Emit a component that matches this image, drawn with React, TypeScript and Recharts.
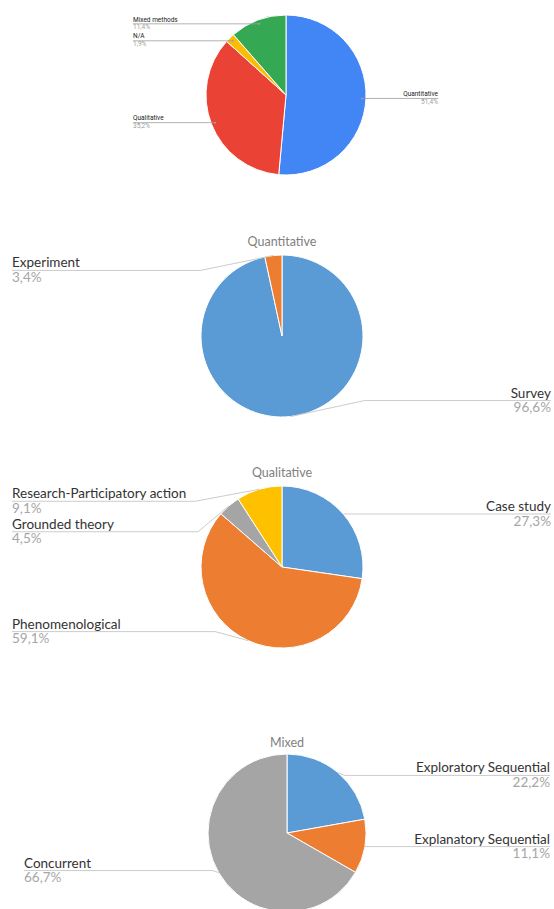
import React from 'react'
import { PieChart, Pie, Cell } from 'recharts'

// Research method shares, all in percent, clockwise from 12 o'clock

const methodNames = ['Quantitative', 'Qualitative', 'N/A', 'Mixed methods']
const methodShares = [51.4, 35.2, 1.9, 11.4]
const methodColors = ['#4285f4', '#ea4335', '#fbbc04', '#34a853']

const quantNames = ['Survey', 'Experiment']
const quantShares = [96.6, 3.4]
const quantColors = ['#5b9bd5', '#ed7d31']

const qualNames = ['Case study', 'Phenomenological', 'Grounded theory', 'Research-Participatory action']
const qualShares = [27.3, 59.1, 4.5, 9.1]
const qualColors = ['#5b9bd5', '#ed7d31', '#a5a5a5', '#ffc000']

const mixedNames = ['Exploratory Sequential', 'Explanatory Sequential', 'Concurrent']
const mixedShares = [22.2, 11.1, 66.7]
const mixedColors = ['#5b9bd5', '#ed7d31', '#a5a5a5']

// leader line bends per slice: [shift of the text line from the slice, bend x from the slice]
const quantBends = [[-16, 74], [15, -73]]
const qualBends = [[0, 0], [-9, -33], [26, -31], [12, -64]]
const mixedBends = [[3, 7], [0, 0], [-2, -6]]

const RAD = Math.PI / 180
const OFFICE_FONT = 'Lato, "Open Sans", sans-serif'
const NO_MARGIN = { top: 0, right: 0, bottom: 0, left: 0 }

const toRows = (names: string[], values: number[]) => names.map((name, i) => ({ name, value: values[i] }))
const pct = (v: number) => `${v.toFixed(1).replace('.', ',')}%`

// google sheets style: dot inside the slice, flat line out to a label column
function sheetsLabel(left: number, right: number) {
  return (p: any) => {
    const m = p.midAngle * RAD
    const r = p.outerRadius * 0.95
    const x = p.cx + r * Math.cos(m)
    const y = p.cy - r * Math.sin(m)
    const onRight = Math.cos(m) > 0
    const tx = onRight ? right : left
    const anchor = onRight ? 'end' : 'start'
    return (
      <g key={`l-${p.index}`}>
        <line x1={x} y1={y} x2={tx} y2={y} stroke="#9e9e9e" strokeWidth={0.8} />
        <circle cx={x} cy={y} r={1} fill="#9e9e9e" />
        <text x={tx} y={y - 2.3} textAnchor={anchor} fontSize={6.5} fontFamily="Roboto, Arial, sans-serif" fill="#222">{p.name}</text>
        <text x={tx} y={y + 5.6} textAnchor={anchor} fontSize={6.5} fontFamily="Roboto, Arial, sans-serif" fill="#9e9e9e">{pct(p.value)}</text>
      </g>
    )
  }
}

// office style: leader from the slice edge, bent onto the label's underline
function officeLabel(left: number, right: number, bends: number[][]) {
  return (p: any) => {
    const m = p.midAngle * RAD
    const x = p.cx + p.outerRadius * Math.cos(m)
    const y = p.cy - p.outerRadius * Math.sin(m)
    const [dy, dx] = bends[p.index]
    const ly = y + dy
    const onRight = Math.cos(m) > 0
    const tx = onRight ? right : left
    const anchor = onRight ? 'end' : 'start'
    return (
      <g key={`l-${p.index}`}>
        <polyline points={`${tx},${ly} ${x + dx},${ly} ${x},${y}`} fill="none" stroke="#cccccc" strokeWidth={1} />
        <text x={tx} y={ly - 3} textAnchor={anchor} fontSize={13.5} fontFamily={OFFICE_FONT} fill="#333">{p.name}</text>
        <text x={tx} y={ly + 11.5} textAnchor={anchor} fontSize={13.5} fontFamily={OFFICE_FONT} fill="#a6a6a6">{pct(p.value)}</text>
      </g>
    )
  }
}

type PanelProps = {
  top: number
  height: number
  title?: string
  titleY?: number
  cx: number
  cy: number
  radius: number
  names: string[]
  values: number[]
  colors: string[]
  label: (p: any) => React.ReactNode
}

function Panel({ top, height, title, titleY, cx, cy, radius, names, values, colors, label }: PanelProps) {
  return (
    <div style={{ position: 'absolute', left: 0, top, width: 554, height }}>
      <PieChart width={554} height={height} margin={NO_MARGIN}>
        {title && (
          <text x={cx} y={titleY} textAnchor="middle" fontSize={12.5} fontFamily={OFFICE_FONT} fill="#808080">{title}</text>
        )}
        <Pie
          data={toRows(names, values)}
          dataKey="value"
          nameKey="name"
          cx={cx}
          cy={cy}
          outerRadius={radius}
          startAngle={90}
          endAngle={-270}
          stroke="#fff"
          strokeWidth={1}
          labelLine={false}
          label={label}
          isAnimationActive={false}
        >
          {names.map((n, i) => <Cell key={n} fill={colors[i]} />)}
        </Pie>
      </PieChart>
    </div>
  )
}

export default function App() {
  return (
    <div style={{ position: 'absolute', left: 0, top: 0, width: 554, height: 909, overflow: 'hidden', background: '#fff' }}>
      <Panel top={0} height={200} cx={286} cy={95} radius={80}
        names={methodNames} values={methodShares} colors={methodColors} label={sheetsLabel(133, 438)} />
      <Panel top={225} height={215} title="Quantitative" titleY={21} cx={282} cy={111} radius={81}
        names={quantNames} values={quantShares} colors={quantColors} label={officeLabel(12, 551, quantBends)} />
      <Panel top={455} height={215} title="Qualitative" titleY={22} cx={282} cy={112} radius={81}
        names={qualNames} values={qualShares} colors={qualColors} label={officeLabel(12, 551, qualBends)} />
      <Panel top={725} height={184} title="Mixed" titleY={22} cx={287} cy={108} radius={79}
        names={mixedNames} values={mixedShares} colors={mixedColors} label={officeLabel(24, 550, mixedBends)} />
    </div>
  )
}
